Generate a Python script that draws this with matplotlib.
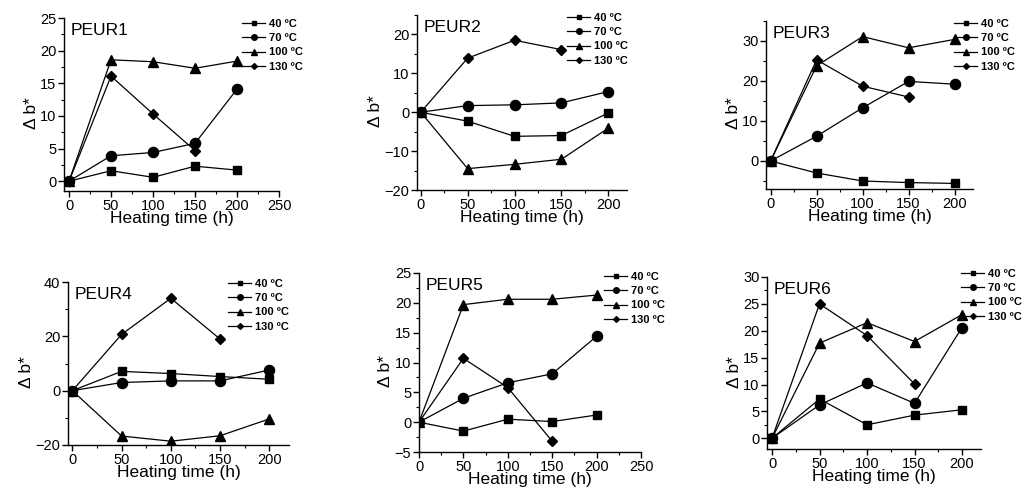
import matplotlib
matplotlib.use("Agg")
import matplotlib.pyplot as plt
from matplotlib.ticker import MultipleLocator

plt.rcParams['font.family'] = ['Liberation Sans', 'DejaVu Sans']

hours = [0, 50, 100, 150, 200]
temps = ['40 ºC', '70 ºC', '100 ºC', '130 ºC']

# delta b* per sample, one list per ageing temperature (130 ºC stops at 150 h)
peur1_40 = [0, 1.6, 0.6, 2.3, 1.7]
peur1_70 = [0, 3.9, 4.4, 5.8, 14.1]
peur1_100 = [0, 18.6, 18.3, 17.3, 18.4]
peur1_130 = [0, 16.1, 10.3, 4.7]

peur2_40 = [0, -2.3, -6.2, -6.0, -0.2]
peur2_70 = [0, 1.7, 1.9, 2.4, 5.3]
peur2_100 = [0, -14.5, -13.4, -12.1, -4.1]
peur2_130 = [0, 13.9, 18.5, 16.1]

peur3_40 = [0, -3.0, -5.0, -5.4, -5.6]
peur3_70 = [0, 6.2, 13.3, 19.9, 19.2]
peur3_100 = [0, 23.8, 31.1, 28.3, 30.4]
peur3_130 = [0, 25.3, 18.7, 16.0]

peur4_40 = [0, 7.1, 6.3, 5.2, 4.2]
peur4_70 = [0, 3.0, 3.6, 3.6, 7.6]
peur4_100 = [0, -16.7, -18.6, -16.6, -10.4]
peur4_130 = [0, 20.7, 34.0, 19.0]

peur5_40 = [0, -1.5, 0.5, 0.1, 1.2]
peur5_70 = [0, 4.0, 6.6, 8.1, 14.4]
peur5_100 = [0, 19.7, 20.6, 20.6, 21.3]
peur5_130 = [0, 10.7, 5.8, -3.2]

peur6_40 = [0, 7.3, 2.5, 4.3, 5.3]
peur6_70 = [0, 6.2, 10.3, 6.5, 20.6]
peur6_100 = [0, 17.7, 21.5, 18.0, 23.0]
peur6_130 = [0, 25.0, 19.1, 10.1]

markers = ['s', 'o', '^', 'D']
sizes = [6.3, 7.3, 7.3, 5.4]

W, H = 1024, 493
fig = plt.figure(figsize=(W / 100, H / 100), dpi=100)


def px_axes(left, top, right, bottom):
    return fig.add_axes([left / W, 1 - bottom / H, (right - left) / W, (bottom - top) / H])


def draw_panel(box, name, series, xlim, xmax_tick, ylim, ymaj, legend_xy):
    ax = px_axes(*box)
    for vals, m, ms, lab in zip(series, markers, sizes, temps):
        ax.plot(hours[:len(vals)], vals, color='black', lw=0.9, marker=m,
                ms=ms, mfc='black', mec='black', label=lab)
    ax.set_xlim(*xlim)
    ax.set_ylim(*ylim)
    ax.set_xticks(range(0, xmax_tick + 1, 50))
    ax.xaxis.set_minor_locator(MultipleLocator(25))
    ax.yaxis.set_major_locator(MultipleLocator(ymaj))
    ax.yaxis.set_minor_locator(MultipleLocator(ymaj / 2))
    for s in ['top', 'right']:
        ax.spines[s].set_visible(False)
    for s in ['left', 'bottom']:
        ax.spines[s].set_linewidth(1.0)
    ax.tick_params(which='major', direction='out', length=4, width=1, labelsize=10.5, pad=1.5)
    ax.tick_params(which='minor', direction='out', length=2.5, width=0.8)
    ax.set_xlabel('Heating time (h)', fontsize=12.5, labelpad=-1)
    ax.set_ylabel('Δ b*', fontsize=12.5, labelpad=1, y=0.45)
    ax.text(0.03, 0.97, name, transform=ax.transAxes, fontsize=12.5, va='top', ha='left')
    lx, ly = legend_xy
    ax.legend(loc='upper left', bbox_to_anchor=(lx / W, 1 - ly / H),
              bbox_transform=fig.transFigure, frameon=False, borderpad=0,
              borderaxespad=0, handlelength=2.1, handletextpad=0.3,
              labelspacing=0.38, markerscale=0.55,
              prop={'weight': 'bold', 'size': 8})
    return ax


draw_panel((64, 18, 279, 191), 'PEUR1', [peur1_40, peur1_70, peur1_100, peur1_130],
           (-6, 250), 250, (-1.5, 25), 5, (242, 19))
draw_panel((417, 15, 627, 190), 'PEUR2', [peur2_40, peur2_70, peur2_100, peur2_130],
           (-4, 220), 200, (-20, 25), 10, (567, 13))
draw_panel((766, 21, 973, 189), 'PEUR3', [peur3_40, peur3_70, peur3_100, peur3_130],
           (-5, 220), 200, (-7, 35), 10, (954, 19))
draw_panel((68, 282, 289, 445), 'PEUR4', [peur4_40, peur4_70, peur4_100, peur4_130],
           (-4.4, 220), 200, (-20, 40), 20, (228, 279))
draw_panel((419, 273, 641, 452), 'PEUR5', [peur5_40, peur5_70, peur5_100, peur5_130],
           (0, 250), 250, (-5, 25), 5, (604, 272))
draw_panel((767, 277, 981, 449), 'PEUR6', [peur6_40, peur6_70, peur6_100, peur6_130],
           (-5.3, 220), 200, (-2, 30), 5, (961, 269))

fig.savefig('out.png', dpi=100)
